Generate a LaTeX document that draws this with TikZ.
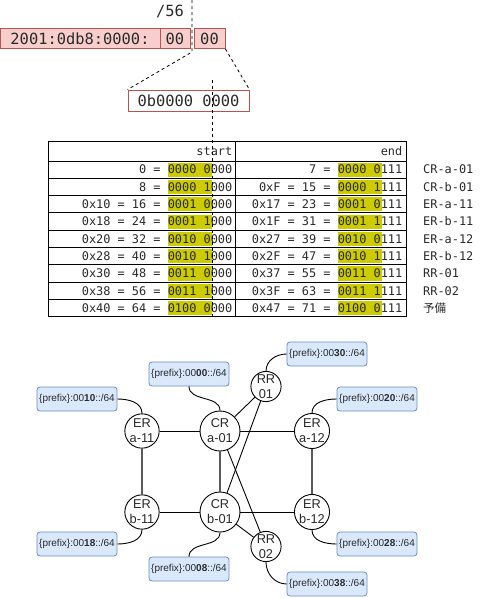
\documentclass[tikz,border=0pt]{standalone}
\usepackage{fontspec}
\setmainfont{Liberation Sans}
\newfontfamily\monof{DejaVu Sans Mono}
\newfontfamily\cjkf{Noto Sans CJK JP}
\definecolor{redfill}{HTML}{F8CECC}
\definecolor{redline}{HTML}{B85450}
\definecolor{bluefill}{HTML}{DAE8FC}
\definecolor{blueline}{HTML}{6C8EBF}
\definecolor{hl}{RGB}{204,204,0}
\definecolor{txt}{HTML}{2A2A2A}
\definecolor{thickgray}{HTML}{5A5A5A}
\tikzset{
  redbox/.style={draw=redline,fill=redfill,line width=0.9pt,inner sep=0pt,minimum height=20,font=\monof\fontsize{15.4}{18}\selectfont,text=txt},
  cutline/.style={dashed,dash pattern=on 3pt off 3pt,line width=0.8pt},
  celltext/.style={inner sep=0pt,font=\monof\fontsize{11.9}{14}\selectfont,text=txt},
  router/.style={circle,draw,fill=white,line width=0.9pt,inner sep=0pt,align=center,font=\fontsize{12.8}{15}\selectfont,text=txt},
  er/.style={router,minimum size=30},
  cr/.style={router,minimum size=40},
  prefixbox/.style={draw=blueline,fill=bluefill,rounded corners=3pt,line width=0.8pt,minimum width=80,minimum height=24,inner sep=0pt,font=\fontsize{10}{12}\selectfont,text=txt},
  link/.style={line width=0.9pt},
  glink/.style={line width=1.6pt,draw=thickgray},
  plink/.style={line width=0.9pt}
}
\begin{document}
\begin{tikzpicture}[x=1pt,y=-1pt]
\useasboundingbox (0,0) rectangle (492,598);

% top address boxes
\node[redbox,minimum width=160] (b1) at (80,38.5) {2001:0db8:0000:};
\node[redbox,minimum width=30] (b2) at (175,38.5) {00};
\node[redbox,minimum width=31] (b3) at (209.5,38.5) {00};
\node[inner sep=0pt,font=\monof\fontsize{15.4}{18}\selectfont,text=txt] (len) at (170,11) {/56};
\node[redbox,fill=white,minimum width=121,minimum height=21] (bin) at (188.5,100.5) {0b0000 0000};

\coordinate (cuttop) at (192,0);
\coordinate (cutbot) at (192,52);
\draw[cutline] (cuttop) -- (cutbot) -- (bin.north west);
\draw[cutline] (b3.south east) -- (bin.north east);

% table
\foreach \i in {0,...,8}{
  \pgfmathsetmacro{\top}{161+17.3*\i}
  \fill[hl] (168,\top+1.6) rectangle (211.5,\top+15.8);
  \fill[hl] (338,\top+1.6) rectangle (381.5,\top+15.8);
}
\draw[line width=0.9pt] (48,141) rectangle (406,316.7);
\draw[line width=0.9pt] (235,141) -- (235,316.7);
\foreach \i in {0,...,8}{
  \pgfmathsetmacro{\top}{161+17.3*\i}
  \draw[line width=0.9pt] (48,\top) -- (406,\top);
}
\node[celltext,anchor=east] (hs) at (232.5,151) {start};
\node[celltext,anchor=east] (he) at (402.5,151) {end};
\foreach \i/\s/\e/\l in {
  0/{0 = 0000 0000}/{7 = 0000 0111}/{CR-a-01},
  1/{8 = 0000 1000}/{0xF = 15 = 0000 1111}/{CR-b-01},
  2/{0x10 = 16 = 0001 0000}/{0x17 = 23 = 0001 0111}/{ER-a-11},
  3/{0x18 = 24 = 0001 1000}/{0x1F = 31 = 0001 1111}/{ER-b-11},
  4/{0x20 = 32 = 0010 0000}/{0x27 = 39 = 0010 0111}/{ER-a-12},
  5/{0x28 = 40 = 0010 1000}/{0x2F = 47 = 0010 1111}/{ER-b-12},
  6/{0x30 = 48 = 0011 0000}/{0x37 = 55 = 0011 0111}/{RR-01},
  7/{0x38 = 56 = 0011 1000}/{0x3F = 63 = 0011 1111}/{RR-02}}{
  \pgfmathsetmacro{\cy}{161+17.3*\i+8.65}
  \node[celltext,anchor=east] (s\i) at (232.5,\cy) {\s};
  \node[celltext,anchor=east] (e\i) at (402.5,\cy) {\e};
  \node[celltext,anchor=west] (l\i) at (423,\cy) {\l};
}
\node[celltext,anchor=east] (s8) at (232.5,299.4+8.65) {0x40 = 64 = 0100 0000};
\node[celltext,anchor=east] (e8) at (402.5,299.4+8.65) {0x47 = 71 = 0100 0111};
\node[inner sep=0pt,anchor=west,font=\cjkf\fontsize{11.5}{14}\selectfont,text=txt] (l8) at (423,299.4+8.65) {予備};

\coordinate (bitcuttop) at (212,80);
\coordinate (bitcutbot) at (212,318);
\draw[cutline] (bitcuttop) -- (bitcutbot);

% network
\node[er] (era11) at (142,431) {ER\\a-11};
\node[cr] (cra01) at (220,431) {CR\\a-01};
\node[er] (rr01) at (266,386.5) {RR\\01};
\node[er] (era12) at (312,431) {ER\\a-12};
\node[er] (erb11) at (142,512) {ER\\b-11};
\node[cr] (crb01) at (220,512) {CR\\b-01};
\node[er] (rr02) at (266,546.5) {RR\\02};
\node[er] (erb12) at (312,512) {ER\\b-12};

\draw[link] (era11) -- (cra01);
\draw[link] (cra01) -- (era12);
\draw[link] (erb11) -- (crb01);
\draw[link] (crb01) -- (erb12);
\draw[glink] (era11) -- (erb11);
\draw[glink] (era12) -- (erb12);
\draw[glink] (cra01) -- (crb01);
\draw[link] (cra01) -- (rr01);
\draw[link] (crb01) -- (rr01);
\draw[link] (cra01) -- (rr02);
\draw[link] (crb01) -- (rr02);

\node[prefixbox] (p00) at (189,374) {\{prefix\}:00\textbf{00}::/64};
\node[prefixbox] (p10) at (77,399) {\{prefix\}:00\textbf{10}::/64};
\node[prefixbox] (p30) at (327,354) {\{prefix\}:00\textbf{30}::/64};
\node[prefixbox] (p20) at (377,399) {\{prefix\}:00\textbf{20}::/64};
\node[prefixbox] (p18) at (77,544) {\{prefix\}:00\textbf{18}::/64};
\node[prefixbox] (p08) at (189,569) {\{prefix\}:00\textbf{08}::/64};
\node[prefixbox] (p28) at (377,544) {\{prefix\}:00\textbf{28}::/64};
\node[prefixbox] (p38) at (327,584) {\{prefix\}:00\textbf{38}::/64};

\draw[plink] (p00.south) to[out=-90,in=90] (cra01.north);
\draw[plink] (p10.east) to[out=0,in=90] (era11.north);
\draw[plink] (p30.west) to[out=180,in=90] (rr01.north);
\draw[plink] (p20.west) to[out=180,in=90] (era12.north);
\draw[plink] (p18.east) to[out=0,in=-90] (erb11.south);
\draw[plink] (p08.north) to[out=90,in=-90] (crb01.south);
\draw[plink] (p28.west) to[out=180,in=-90] (erb12.south);
\draw[plink] (p38.west) to[out=180,in=-90] (rr02.south);
\end{tikzpicture}
\end{document}
